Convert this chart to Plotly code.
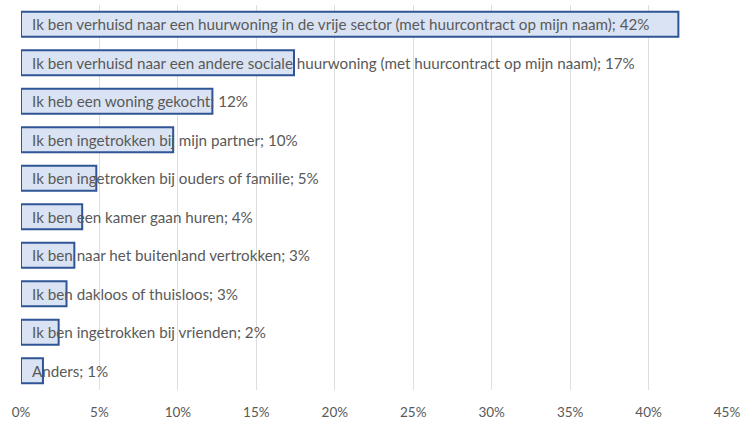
import plotly.graph_objects as go

# Woonsituatie na vertrek
categories = [
    "Ik ben verhuisd naar een huurwoning in de vrije sector (met huurcontract op mijn naam)",
    "Ik ben verhuisd naar een andere sociale huurwoning (met huurcontract op mijn naam)",
    "Ik heb een woning gekocht",
    "Ik ben ingetrokken bij mijn partner",
    "Ik ben ingetrokken bij ouders of familie",
    "Ik ben een kamer gaan huren",
    "Ik ben naar het buitenland vertrokken",
    "Ik ben dakloos of thuisloos",
    "Ik ben ingetrokken bij vrienden",
    "Anders",
]
values = [41.9, 17.4, 12.2, 9.7, 4.8, 3.9, 3.4, 2.9, 2.4, 1.4]
tick_values = [0, 5, 10, 15, 20, 25, 30, 35, 40, 45]
tick_labels = [f"{v}%" for v in tick_values]

labels = [f"{c}; {round(v)}%" for c, v in zip(categories, values)]

fig = go.Figure()
fig.add_trace(go.Bar(
    y=categories,
    x=values,
    orientation="h",
    marker=dict(color="#dae3f3", line=dict(color="#2f5597", width=2)),
    hoverinfo="skip",
))

# Category labels with their share, starting just inside each bar
for cat, lab in zip(categories, labels):
    fig.add_annotation(
        x=0, y=cat, xref="x", yref="y",
        text=lab, showarrow=False,
        xanchor="left", yanchor="middle", xshift=9,
        font=dict(family="Lato, Open Sans, sans-serif", size=15.2, color="#595959"),
    )

fig.update_layout(
    width=745,
    height=425,
    margin=dict(l=21, r=16, t=5, b=35),
    paper_bgcolor="white",
    plot_bgcolor="white",
    showlegend=False,
    bargap=0.35,
    xaxis=dict(
        range=[0, 45],
        tickvals=tick_values,
        ticktext=tick_labels,
        showgrid=True,
        gridcolor="#dedede",
        gridwidth=1,
        zeroline=False,
        showline=False,
        tickfont=dict(family="Lato, Open Sans, sans-serif", size=13.5, color="#595959"),
        ticks="",
        ticklabelstandoff=12,
    ),
    yaxis=dict(
        autorange="reversed",
        showticklabels=False,
        showgrid=False,
        zeroline=False,
        showline=False,
        ticks="",
    ),
)

fig.write_html("out.html")
